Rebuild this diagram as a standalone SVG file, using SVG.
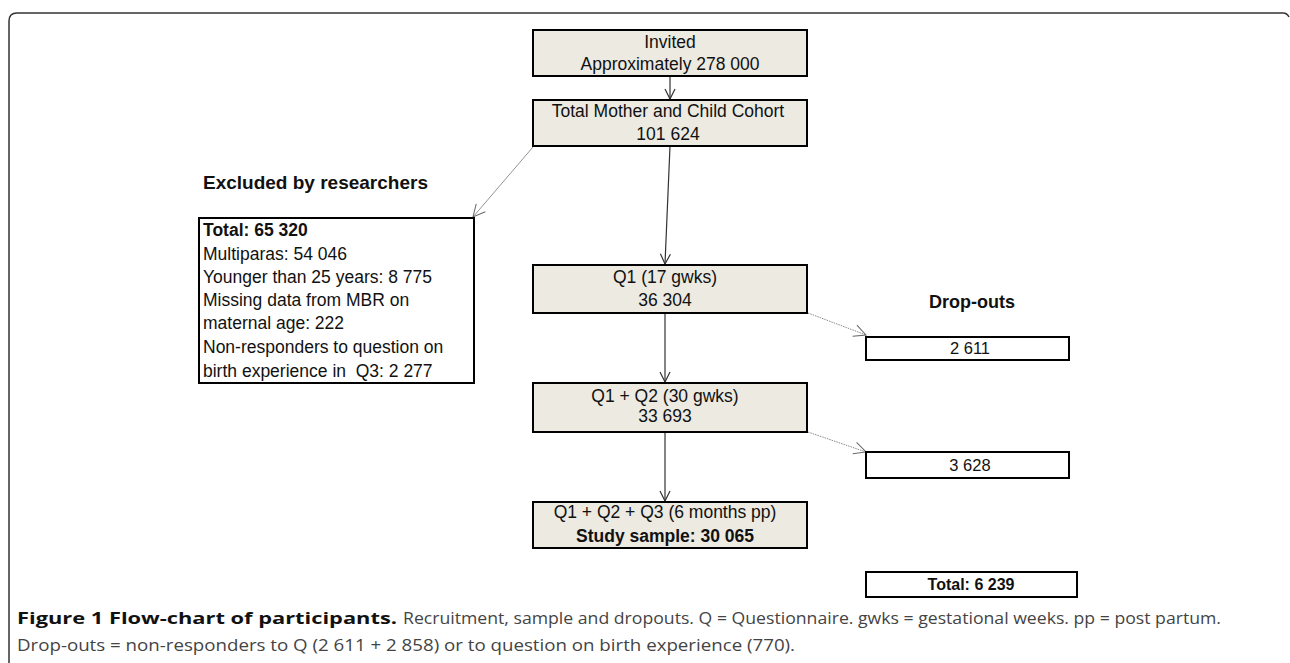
<svg xmlns="http://www.w3.org/2000/svg" width="1290" height="663" viewBox="0 0 1290 663">
<defs>
<style>
.t{font-family:"Liberation Sans",Arial,sans-serif;font-size:17.5px;fill:#111}
.b{font-weight:bold}
.box{fill:#ECEAE1;stroke:#000;stroke-width:2}
.wbox{fill:#fff;stroke:#000;stroke-width:2}
.main{stroke:#333;stroke-width:1.2;fill:none}
.thin{stroke:#888;stroke-width:0.9;fill:none}
.dot{stroke:#888;stroke-width:1;fill:none;stroke-dasharray:1.5 1}
.cap{font-family:"Open Sans","Liberation Sans",sans-serif;font-size:16px}
</style>
<marker id="ah" viewBox="0 0 12 12" refX="11" refY="6" markerWidth="12" markerHeight="12" markerUnits="userSpaceOnUse" orient="auto">
<path d="M1,1 L11,6 L1,11" fill="none" stroke="#333" stroke-width="1.2"/>
</marker>
<marker id="ahg" viewBox="0 0 14 14" refX="13" refY="7" markerWidth="14" markerHeight="14" markerUnits="userSpaceOnUse" orient="auto">
<path d="M1,1 L13,7 L1,13" fill="none" stroke="#666" stroke-width="1"/>
</marker>
</defs>
<rect width="1290" height="663" fill="#fff"/>
<path d="M9,663 L9,21 Q9,13 17,13 L1283,13 Q1287,13 1289,17" fill="none" stroke="#333" stroke-width="1.5"/>

<g id="connectors">
<line class="main" x1="670" y1="76" x2="670" y2="99" marker-end="url(#ah)"/>
<line class="main" x1="670" y1="146" x2="665" y2="264" marker-end="url(#ah)"/>
<line class="main" x1="665" y1="313" x2="665" y2="382" marker-end="url(#ah)"/>
<line class="main" x1="665" y1="432" x2="665" y2="501" marker-end="url(#ah)"/>
<line class="thin" x1="533" y1="147" x2="473" y2="217" marker-end="url(#ahg)"/>
<line class="dot" x1="808" y1="313" x2="866" y2="335" marker-end="url(#ahg)"/>
<line class="dot" x1="808" y1="432" x2="866" y2="452" marker-end="url(#ahg)"/>
</g>

<g id="invited">
<rect class="box" x="533" y="30" width="274" height="46"/>
<text class="t" x="670" y="48" text-anchor="middle">Invited</text>
<text class="t" x="670" y="70" text-anchor="middle">Approximately 278 000</text>
</g>
<g id="cohort">
<rect class="box" x="533" y="100" width="274" height="46"/>
<text class="t" x="668" y="117" text-anchor="middle">Total Mother and Child Cohort</text>
<text class="t" x="668" y="140" text-anchor="middle">101 624</text>
</g>
<g id="q1">
<rect class="box" x="533" y="265" width="274" height="48"/>
<text class="t" x="665" y="283" text-anchor="middle">Q1 (17 gwks)</text>
<text class="t" x="665" y="306" text-anchor="middle">36 304</text>
</g>
<g id="q2">
<rect class="box" x="533" y="383" width="274" height="49"/>
<text class="t" x="665" y="402" text-anchor="middle">Q1 + Q2 (30 gwks)</text>
<text class="t" x="665" y="422" text-anchor="middle">33 693</text>
</g>
<g id="q3">
<rect class="box" x="533" y="502" width="274" height="46"/>
<text class="t" x="665" y="518" text-anchor="middle">Q1 + Q2 + Q3 (6 months pp)</text>
<text class="t b" x="665" y="542" text-anchor="middle">Study sample: 30 065</text>
</g>

<g id="excluded-label">
<text class="t b" x="203" y="189" style="font-size:19px">Excluded by researchers</text>
</g>
<g id="excluded">
<rect class="wbox" x="199" y="218" width="275" height="165"/>
<text class="t" x="203" y="236"><tspan class="b">Total: 65 320</tspan><tspan x="203" y="260">Multiparas: 54 046</tspan><tspan x="203" y="283">Younger than 25 years: 8 775</tspan><tspan x="203" y="306">Missing data from MBR on</tspan><tspan x="203" y="329">maternal age: 222</tspan><tspan x="203" y="353">Non-responders to question on</tspan><tspan x="203" y="377">birth experience in &#160;Q3: 2 277</tspan></text>
</g>

<g id="dropouts-label">
<text class="t b" x="972" y="308" text-anchor="middle" style="font-size:18px">Drop-outs</text>
</g>
<g id="drop1">
<rect class="wbox" x="866" y="337" width="203" height="23"/>
<text class="t" x="970" y="354" text-anchor="middle" style="font-size:16.5px">2 611</text>
</g>
<g id="drop2">
<rect class="wbox" x="866" y="452" width="203" height="26"/>
<text class="t" x="970" y="471" text-anchor="middle" style="font-size:16.5px">3 628</text>
</g>
<g id="drop-total">
<rect class="wbox" x="866" y="572" width="211" height="25"/>
<text class="t b" x="971" y="590" text-anchor="middle" style="font-size:16px">Total: 6 239</text>
</g>

<g id="caption">
<text class="cap" x="17" y="624"><tspan font-weight="bold" fill="#111" textLength="380" lengthAdjust="spacingAndGlyphs">Figure 1 Flow-chart of participants.</tspan><tspan fill="#444" dx="6" textLength="818" lengthAdjust="spacingAndGlyphs">Recruitment, sample and dropouts. Q = Questionnaire. gwks = gestational weeks. pp = post partum.</tspan></text>
<text class="cap" x="17" y="651" fill="#444" textLength="778" lengthAdjust="spacingAndGlyphs">Drop-outs = non-responders to Q (2 611 + 2 858) or to question on birth experience (770).</text>
</g>
</svg>
